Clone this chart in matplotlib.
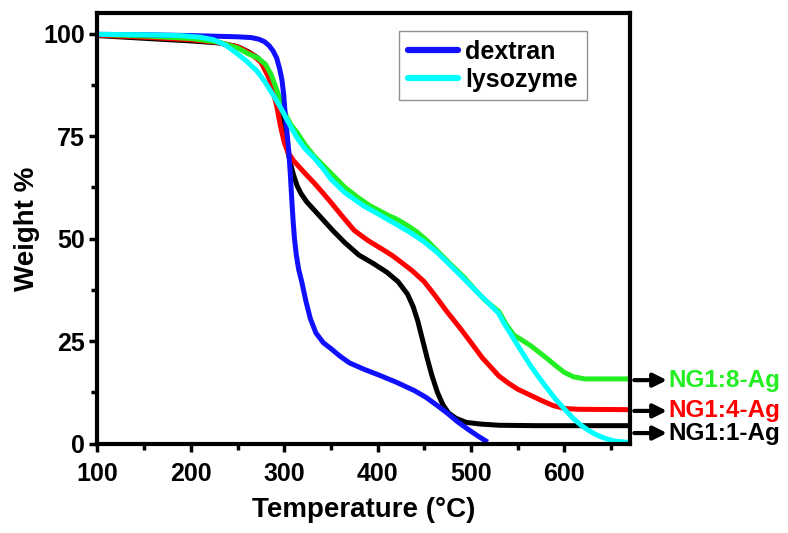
import numpy as np
import matplotlib
matplotlib.use("Agg")
import matplotlib.pyplot as plt
from matplotlib.ticker import MultipleLocator

plt.rcParams['font.family'] = ['Liberation Sans', 'DejaVu Sans']
plt.rcParams['font.weight'] = 'bold'
plt.rcParams['axes.labelweight'] = 'bold'

# TGA curves
t_ng11 = [100, 130, 160, 200, 230, 250, 262, 272, 280, 286, 290, 294, 298, 302, 306, 310,
          314, 318, 324, 332, 342, 352, 365, 380, 395, 410, 422, 432, 438, 443, 448, 453,
          458, 464, 470, 476, 484, 495, 510, 530, 570, 670]
w_ng11 = [99.5, 99.1, 98.7, 98.2, 97.7, 96.8, 95.5, 94.0, 92.0, 89.5, 87.0, 83.5, 78.5, 73.5, 69.0, 65.5,
          62.8, 61.0, 59.0, 57.0, 54.5, 52.0, 49.0, 46.0, 44.0, 41.8, 39.5, 36.5, 33.5, 30.0, 25.5, 21.0,
          16.8, 12.6, 9.5, 7.5, 6.2, 5.2, 4.8, 4.5, 4.4, 4.4]

t_ng14 = [100, 150, 200, 230, 250, 265, 275, 283, 288, 292, 296, 300, 304, 310, 316, 324,
          332, 342, 352, 362, 375, 390, 403, 415, 425, 437, 450, 462, 475, 488, 500, 512,
          522, 530, 540, 550, 564, 575, 588, 600, 615, 670]
w_ng14 = [99.6, 99.1, 98.5, 97.8, 96.8, 95.0, 93.0, 89.5, 86.0, 82.3, 77.5, 73.5, 71.0, 69.0, 67.5, 65.5,
          63.6, 61.0, 58.3, 55.5, 52.0, 49.5, 47.7, 46.0, 44.3, 42.2, 39.5, 36.0, 32.0, 28.3, 24.7, 21.0,
          18.5, 16.5, 14.8, 13.3, 11.8, 10.6, 9.3, 8.6, 8.4, 8.3]

t_ng18 = [100, 150, 200, 230, 250, 262, 272, 280, 286, 292, 298, 303, 308, 314, 322, 332,
          342, 352, 365, 378, 388, 392, 402, 412, 421, 432, 443, 454, 464, 478, 493, 505,
          515, 522, 530, 538, 546, 555, 564, 573, 582, 591, 600, 610, 622, 670]
w_ng18 = [99.8, 99.4, 98.8, 97.9, 96.5, 95.0, 94.0, 92.5, 90.0, 86.3, 82.5, 79.5, 77.5, 75.8, 73.0, 70.1,
          67.8, 65.5, 62.5, 60.2, 58.6, 58.0, 56.8, 55.6, 54.7, 53.2, 51.5, 49.3, 47.0, 43.8, 40.5, 37.4,
          35.0, 33.7, 32.2, 29.0, 26.5, 25.2, 23.9, 22.3, 20.7, 19.0, 17.4, 16.3, 15.8, 15.8]

t_dex = [100, 150, 200, 250, 265, 273, 279, 284, 288, 292, 295, 297.6, 299.5, 301, 303, 305,
         306.5, 308, 309.5, 311, 313, 315.5, 319, 323, 328, 334, 342, 350, 360, 370, 385, 403,
         420, 439, 452, 464, 475, 486, 497, 508, 518]
w_dex = [99.8, 99.7, 99.5, 99.2, 99.0, 98.6, 98.0, 97.0, 95.8, 94.0, 91.5, 88.7, 85.0, 80.6, 76.0, 71.0,
         66.0, 60.0, 54.5, 50.0, 46.0, 42.5, 39.3, 35.0, 30.5, 27.0, 24.6, 23.2, 21.3, 19.7, 18.2, 16.6,
         15.0, 13.0, 11.3, 9.3, 7.4, 5.3, 3.5, 1.8, 0.4]

t_lys = [100, 150, 188, 210, 224, 237, 249, 260, 271, 280, 289, 296, 303, 309, 314, 322,
         332, 342, 350, 365, 385, 410, 435, 450, 464, 478, 493, 510, 520, 529, 537, 546,
         555, 564, 573, 582, 591, 600, 609, 618, 627, 636, 645, 655, 670]
w_lys = [99.8, 99.7, 99.5, 99.1, 98.5, 97.2, 95.2, 93.2, 90.8, 88.0, 84.7, 82.0, 79.0, 76.5, 74.5, 72.0,
         69.7, 67.0, 64.5, 61.2, 58.0, 54.8, 51.5, 49.2, 46.6, 43.5, 40.1, 36.2, 34.0, 32.0, 28.8, 25.5,
         22.2, 19.0, 16.1, 13.4, 10.8, 8.5, 6.3, 4.5, 3.1, 2.0, 1.2, 0.6, 0.3]

side_labels = ['NG1:8-Ag', 'NG1:4-Ag', 'NG1:1-Ag']
side_y = [15.5, 8.0, 2.6]
side_colors = ['#22ee22', '#ff0000', 'black']

fig = plt.figure(figsize=(7.88, 5.33), dpi=100)
ax = fig.add_axes([0.1237, 0.1675, 0.6753, 0.8081])

lw = 3.6
style = dict(lw=lw, solid_capstyle='butt', solid_joinstyle='round')
ax.plot(t_ng11, w_ng11, color='black', **style)
ax.plot(t_ng14, w_ng14, color='#ff0000', **style)
ax.plot(t_ng18, w_ng18, color='#22ee22', **style)
ax.plot(t_dex, w_dex, color='#1010ff', label='dextran', **style)
ax.plot(t_lys, w_lys, color='#00ffff', label='lysozyme', **style)

ax.set_xlim(100, 670)
ax.set_ylim(0, 105)
ax.xaxis.set_major_locator(MultipleLocator(100))
ax.xaxis.set_minor_locator(MultipleLocator(50))
ax.yaxis.set_major_locator(MultipleLocator(25))
ax.yaxis.set_minor_locator(MultipleLocator(12.5))

for s in ax.spines.values():
    s.set_linewidth(3)
ax.tick_params(which='both', direction='out', width=2.5, top=False, right=False)
ax.tick_params(which='major', length=6, labelsize=18)
ax.tick_params(axis='x', which='major', pad=7)
ax.tick_params(axis='y', which='major', pad=3)
ax.tick_params(which='minor', length=4)

ax.set_xlabel('Temperature (\u00b0C)', fontsize=20, labelpad=8)
ax.set_ylabel('Weight %', fontsize=20, labelpad=2)

leg = ax.legend(loc='upper left', bbox_to_anchor=(0.5665, 0.958), borderaxespad=0,
                fontsize=18, frameon=True, fancybox=False, handlelength=2.0,
                handletextpad=0.3, labelspacing=0.15, borderpad=0.35)
leg.get_frame().set_edgecolor('#777777')
leg.get_frame().set_linewidth(1)
for h in leg.get_lines():
    h.set_linewidth(4.5)
    h.set_solid_capstyle('round')

# arrows and sample names to the right of the plot
for lab, yv, c in zip(side_labels, side_y, side_colors):
    ax.annotate('', xy=(710, yv), xytext=(675, yv), xycoords='data',
                arrowprops=dict(arrowstyle='-|>', color='black', lw=3, mutation_scale=20,
                                shrinkA=0, shrinkB=0),
                annotation_clip=False)
    ax.text(712, yv, lab, color=c, fontsize=17.5, va='center', ha='left', clip_on=False)

fig.savefig('out.png', dpi=100)
